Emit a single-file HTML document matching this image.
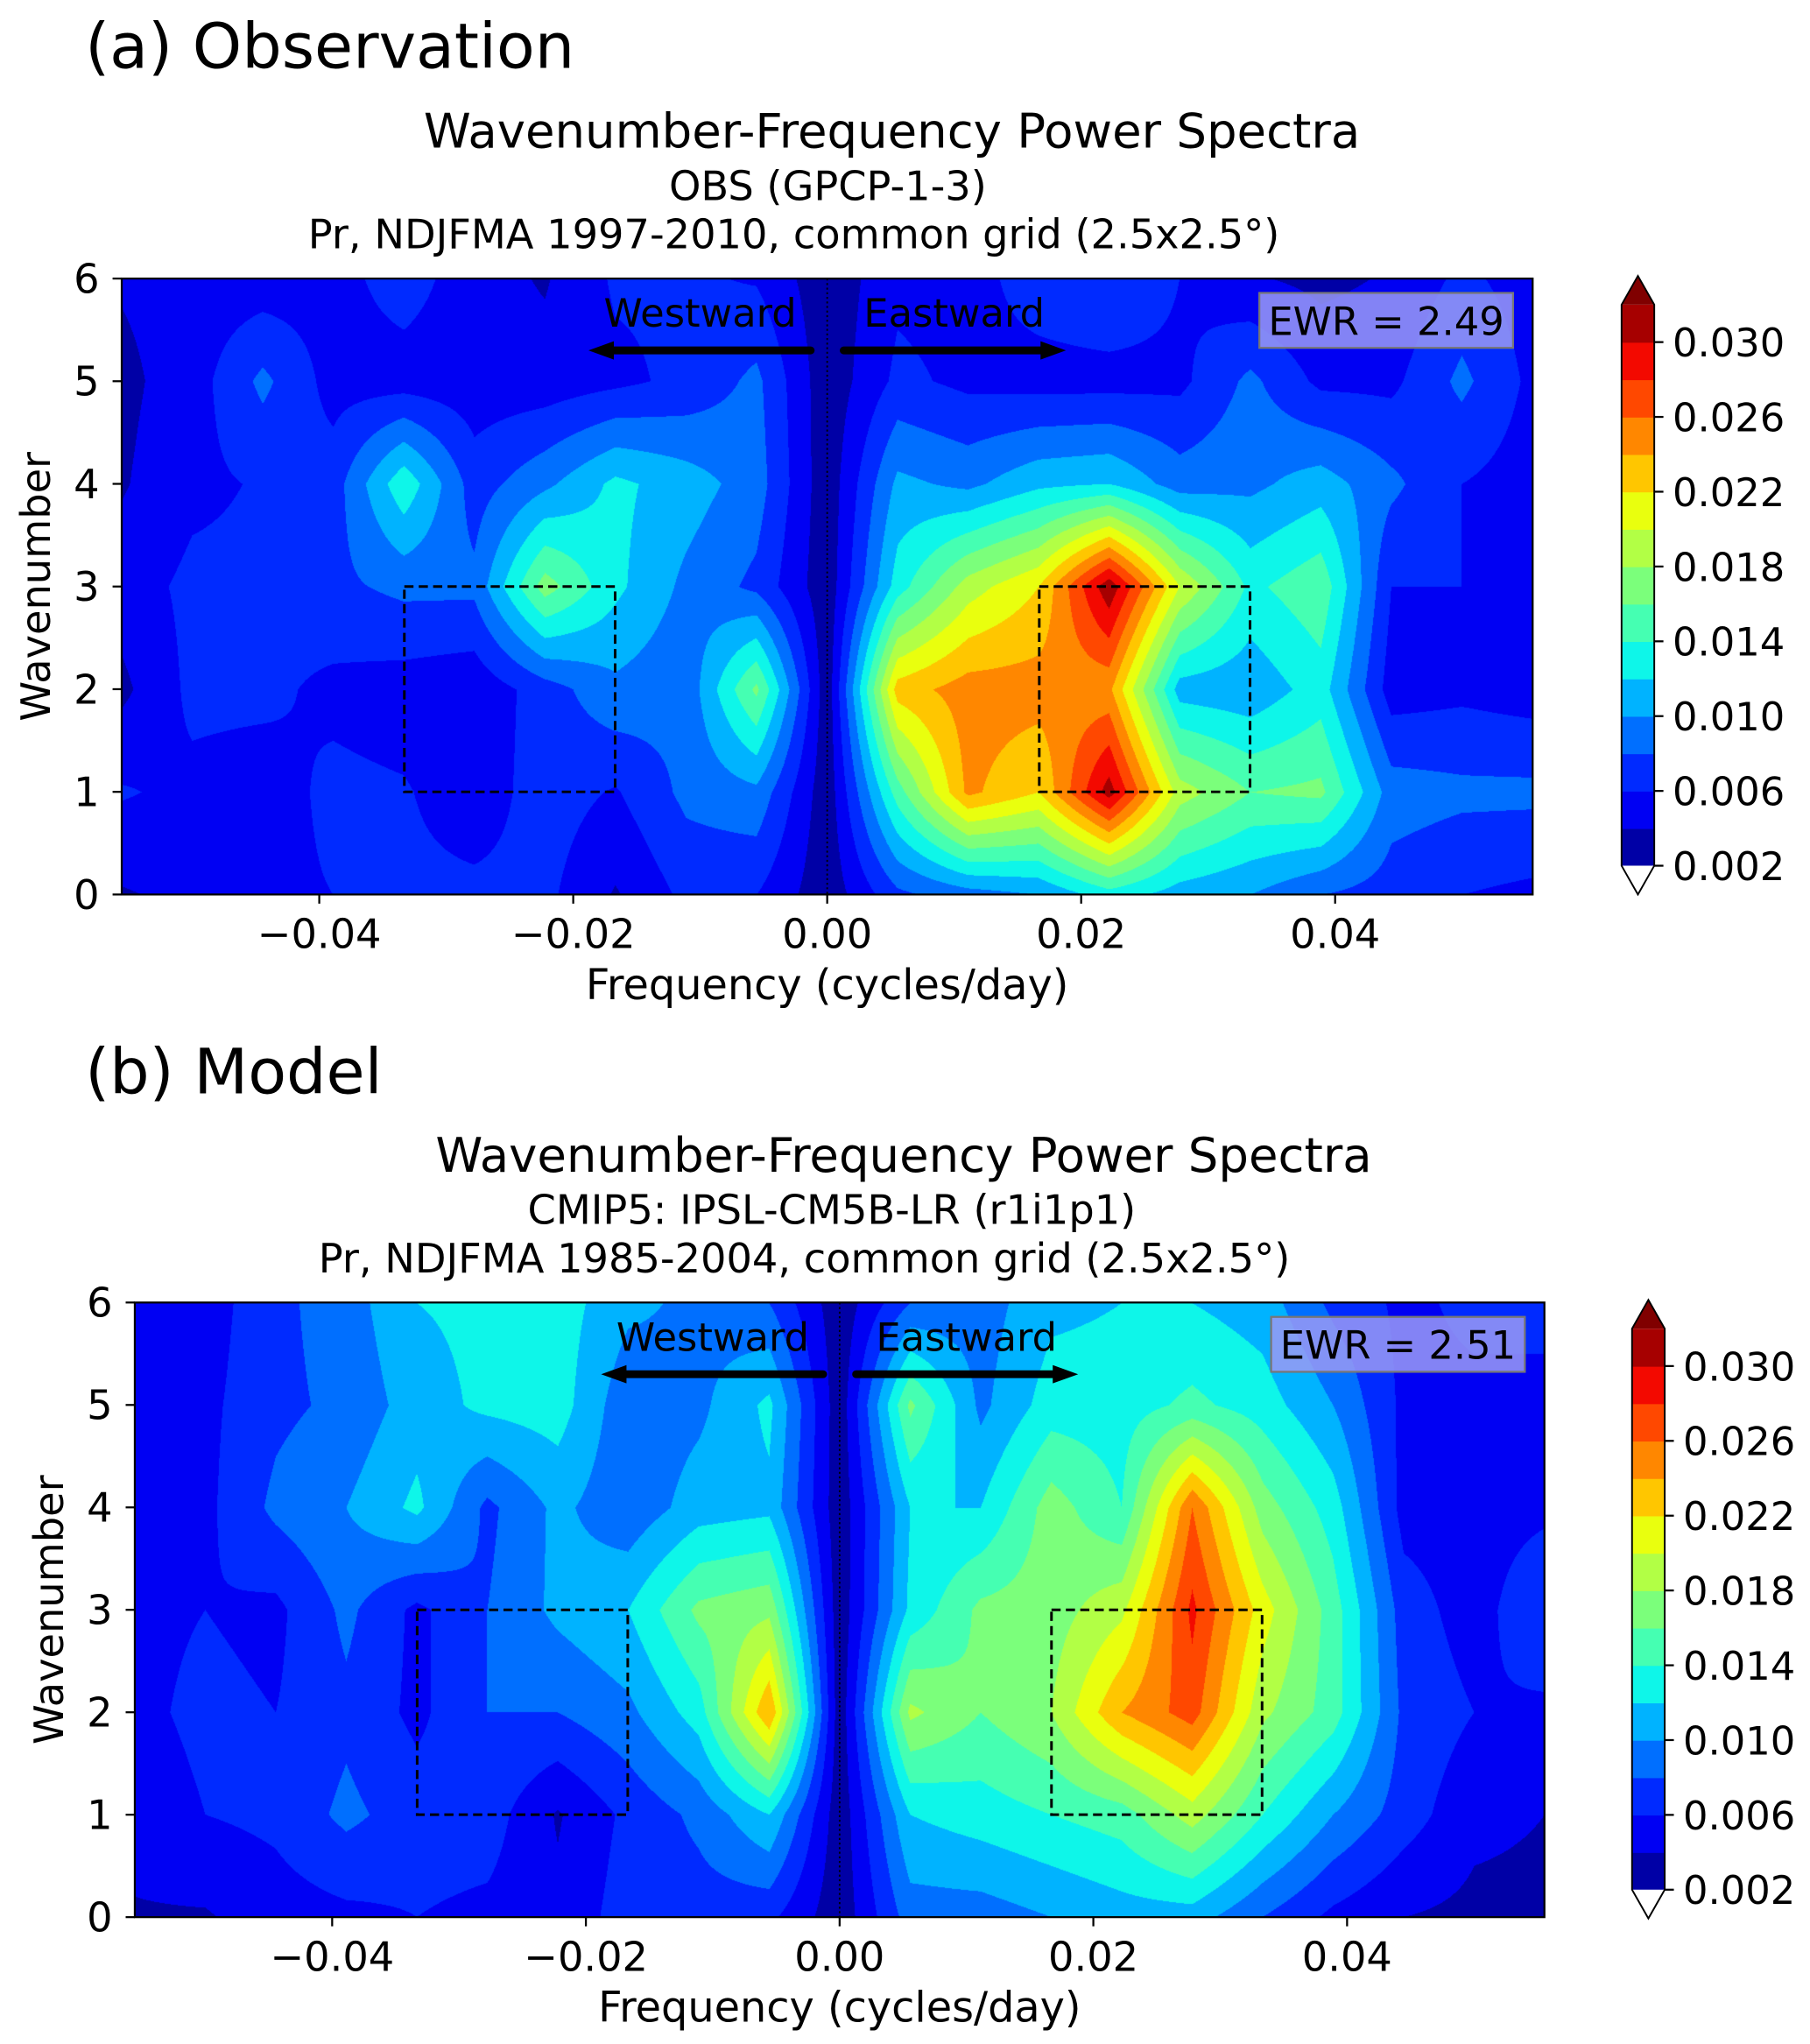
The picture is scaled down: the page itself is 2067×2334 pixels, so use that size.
<!DOCTYPE html>
<html>
<head>
<meta charset="utf-8">
<style>
  html,body{margin:0;padding:0;background:#fff;}
  #root{position:relative;width:2067px;height:2334px;overflow:hidden;background:#fff;}
  canvas{position:absolute;}
  svg{position:absolute;left:0;top:0;}
  text{font-family:"DejaVu Sans","Liberation Sans",sans-serif;fill:#000;}
</style>
</head>
<body>
<div id="root">
<svg id="svg" width="2067" height="2334" viewBox="0 0 1384 1563">
  <text x="65" y="52" font-size="48">(a) Observation</text>
  <text x="682" y="113" font-size="36.5" text-anchor="middle">Wavenumber-Frequency Power Spectra</text>
  <text x="633" y="153" font-size="31" text-anchor="middle">OBS (GPCP-1-3)</text>
  <text x="607" y="190" font-size="31" text-anchor="middle">Pr, NDJFMA 1997-2010, common grid (2.5x2.5°)</text>
  <text x="65" y="836" font-size="48">(b) Model</text>
  <text x="691" y="896" font-size="36.5" text-anchor="middle">Wavenumber-Frequency Power Spectra</text>
  <text x="636" y="936" font-size="31" text-anchor="middle">CMIP5: IPSL-CM5B-LR (r1i1p1)</text>
  <text x="615" y="973" font-size="31" text-anchor="middle">Pr, NDJFMA 1985-2004, common grid (2.5x2.5°)</text>
</svg>
</div>
<script>
const S = 2067 / 1384;
const NS = "http://www.w3.org/2000/svg";

// ---- data ----
const freqIndex = [-10,-9,-8,-7,-6,-5,-4,-3,-2,-1,0,1,2,3,4,5,6,7,8,9,10];
const freqStep = 1 / 180;
const wavenumbers = [0, 1, 2, 3, 4, 5, 6];
const levels = [0.002,0.004,0.006,0.008,0.010,0.012,0.014,0.016,0.018,0.020,0.022,0.024,0.026,0.028,0.030,0.032];
const cbTicks = [0.002,0.006,0.010,0.014,0.018,0.022,0.026,0.030];
const cbTickLabels = ["0.002","0.006","0.010","0.014","0.018","0.022","0.026","0.030"];
const xTicks = [-0.04,-0.02,0.00,0.02,0.04];
const xTickLabels = ["\u22120.04","\u22120.02","0.00","0.02","0.04"];
const yTicks = [0,1,2,3,4,5,6];
const yTickLabels = ["0","1","2","3","4","5","6"];
const boxWest = [-0.0333, -0.0167, 1, 3];
const boxEast = [0.0167, 0.0333, 1, 3];
const ewrObs = "EWR = 2.49";
const ewrModel = "EWR = 2.51";

// power (x 1e-3), rows = wavenumber 0..6, cols = freqIndex
const powerObs = [
 [3.8,4.5,5.5,6,6.5,6.5,6.5,3.8,6.5,6,2.6,7.5,9,10,13,11,10,8,7,6,5.5],
 [6.2,5.5,5,6.5,6.2,4.8,7,5.8,8.5,9.5,2.6,15,24.5,22,31,19,16,16.5,9,8.5,8.5],
 [3.5,6.5,6.5,5.5,5,4.5,7,9.5,8.5,16.5,2.6,23,25,25,24.5,11,10.5,13,5,5.5,5],
 [5,6.5,6.5,7.5,8.5,8.5,17,12.5,9.5,7.5,2.6,13,19,22,31.5,20,13.5,15.5,6,6,5],
 [3.8,5.5,6.2,7,13.5,7,9.5,12.5,11,9,2.6,10.5,9.5,11.5,12,9,9.5,11,8.5,6,5],
 [3.5,5,8.5,5.2,5,4.8,4.8,5.5,6.5,8.5,2.6,6.5,5.5,5.2,5.2,5.5,8.5,5.5,5.5,8.5,5.5],
 [4.2,4.8,4.8,5.2,7,4.8,3.8,6.3,6.3,5.8,2.6,5.5,5.2,7,8,6,4.2,3.5,4.2,6.5,5]
];
const powerModel = [
 [3.8,3.8,5,5.5,6,5.5,4.5,7,7,6.5,2.6,9,9,10,11,11,8,5.5,4,3.5,3.5],
 [4.8,6,6.5,8.5,7,7,3.8,6.5,8.5,12,2.6,12,13,14,15,19,14,10,7,4.5,4],
 [5.5,6.5,6,7.5,5.5,8,8,9.5,13,24,2.6,18.5,16,18,24,27,18.5,15,7.5,6,5.5],
 [5.5,6,5.5,8.5,5.5,8,10.5,12,16.5,17.5,2.6,12.5,16.5,17,19.5,28.5,21,15,7,5,8],
 [5,5.5,8.5,10,12.5,7.5,10.5,8.5,11,11.5,2.6,12,12,17,14,26,17,13,5.2,5,5.5],
 [4.8,5.5,7.5,8.5,11,12.5,13,8.5,9.5,12.5,2.6,16.5,9.5,13,13,14.5,13,10,5.5,5.5,5.5],
 [5.5,5,7.5,9,12,12.5,13,10.5,9.5,8,2.6,8,9,11.5,12,12,11,7.5,5.5,6.5,6.5]
];

// ---- colormap ----
function interp(pts, t){
  for (let i=0;i<pts.length-1;i++){
    const [a,va]=pts[i],[b,vb]=pts[i+1];
    if (t>=a && t<=b) return va+(vb-va)*(t-a)/(b-a);
  }
  return t<pts[0][0]?pts[0][1]:pts[pts.length-1][1];
}
function jet(t){
  const r=interp([[0,0],[0.35,0],[0.66,1],[0.89,1],[1,0.5]],t);
  const g=interp([[0,0],[0.125,0],[0.375,1],[0.64,1],[0.91,0],[1,0]],t);
  const b=interp([[0,0.5],[0.11,1],[0.34,1],[0.65,0],[1,0]],t);
  return [Math.round(r*255),Math.round(g*255),Math.round(b*255)];
}
const nBands = levels.length-1;
const bandColors = [];
for (let i=0;i<nBands;i++) bandColors.push(jet((i+0.5)/nBands));
const overColor = jet(1), underColor=[255,255,255];
function colorFor(v){
  if (v < levels[0]) return underColor;
  if (v >= levels[levels.length-1]) return overColor;
  let i = Math.floor((v-levels[0])/(levels[1]-levels[0]));
  return bandColors[Math.max(0,Math.min(nBands-1,i))];
}
const rgb = c => `rgb(${c[0]},${c[1]},${c[2]})`;

const svg = document.getElementById('svg');
function mk(tag, attrs, parent){
  const el=document.createElementNS(NS,tag);
  for (const k in attrs) el.setAttribute(k, attrs[k]);
  (parent||svg).appendChild(el);
  return el;
}

function drawPanel(P, power, ewr, prefix){
  const fmin = freqIndex[0]*freqStep, fmax = freqIndex[freqIndex.length-1]*freqStep;
  const kmin = wavenumbers[0], kmax = wavenumbers[wavenumbers.length-1];
  const X = f => P.x0 + (f-fmin)/(fmax-fmin)*(P.x1-P.x0);
  const Y = k => P.y1 - (k-kmin)/(kmax-kmin)*(P.y1-P.y0);

  const cx0=Math.round(P.x0*S), cy0=Math.round(P.y0*S);
  const W=Math.round(P.x1*S)-cx0, H=Math.round(P.y1*S)-cy0;
  const cv=document.createElement('canvas');
  cv.width=W; cv.height=H;
  cv.style.left=cx0+'px'; cv.style.top=cy0+'px';
  
  
  document.getElementById('root').insertBefore(cv, svg);
  const ctx=cv.getContext('2d');
  const img=ctx.createImageData(W,H);
  const nc=freqIndex.length, nr=wavenumbers.length;
  for (let py=0;py<H;py++){
    const k = kmax - (py+0.5)/H*(kmax-kmin);
    let r = Math.min(nr-2, Math.max(0, Math.floor(k-kmin)));
    const ty = Math.min(1,Math.max(0,(k-wavenumbers[r])/(wavenumbers[r+1]-wavenumbers[r])));
    for (let px=0;px<W;px++){
      const f = fmin + (px+0.5)/W*(fmax-fmin);
      const fi = f/freqStep - freqIndex[0];
      let c = Math.min(nc-2, Math.max(0, Math.floor(fi)));
      const tx = Math.min(1,Math.max(0,fi-c));
      const v = 0.001*((1-ty)*((1-tx)*power[r][c]+tx*power[r][c+1]) + ty*((1-tx)*power[r+1][c]+tx*power[r+1][c+1]));
      const col=colorFor(v);
      const o=(py*W+px)*4;
      img.data[o]=col[0]; img.data[o+1]=col[1]; img.data[o+2]=col[2]; img.data[o+3]=255;
    }
  }
  ctx.putImageData(img,0,0);

  const g = mk('g',{});
  
  

  const zl = mk('line',{x1:X(0),x2:X(0),y1:P.y0,y2:P.y1,stroke:'#000','stroke-width':1.2,'stroke-dasharray':'1.5,2'},g);
  
  

  [[boxWest,'westward-box'],[boxEast,'eastward-box']].forEach(([b,n])=>{
    const r = mk('rect',{x:X(b[0]),y:Y(b[3]),width:X(b[1])-X(b[0]),height:Y(b[2])-Y(b[3]),fill:'none',stroke:'#000','stroke-width':2,'stroke-dasharray':'7,4'},g);
    
    
  });

  const ay = Y(5.3);
  const wArrow = mk('g',{},g);
  
  
  mk('line',{x1:X(-0.0013),x2:X(-0.0170),y1:ay,y2:ay,stroke:'#000','stroke-width':6,'stroke-linecap':'round'},wArrow);
  mk('polygon',{points:`${X(-0.0188)},${ay} ${X(-0.0168)},${ay-7} ${X(-0.0168)},${ay+7}`,fill:'#000'},wArrow);
  const eArrow = mk('g',{},g);
  
  
  mk('line',{x1:X(0.0013),x2:X(0.0170),y1:ay,y2:ay,stroke:'#000','stroke-width':6,'stroke-linecap':'round'},eArrow);
  mk('polygon',{points:`${X(0.0188)},${ay} ${X(0.0168)},${ay-7} ${X(0.0168)},${ay+7}`,fill:'#000'},eArrow);
  const wt = mk('text',{x:X(-0.0100),y:Y(5.53),'font-size':30,'text-anchor':'middle'},g);
  wt.textContent='Westward';
  
  
  const et = mk('text',{x:X(0.0100),y:Y(5.53),'font-size':30,'text-anchor':'middle'},g);
  et.textContent='Eastward';
  
  

  const eb = mk('g',{},g);
  
  
  mk('rect',{x:P.x1-209,y:P.y0+11,width:194,height:42,fill:'#9a9af5','fill-opacity':0.85,stroke:'#777','stroke-width':1.5},eb);
  const ewt = mk('text',{x:P.x1-112,y:P.y0+43,'font-size':30,'text-anchor':'middle'},eb);
  ewt.textContent=ewr;

  const fr = mk('rect',{x:P.x0,y:P.y0,width:P.x1-P.x0,height:P.y1-P.y0,fill:'none',stroke:'#000','stroke-width':1.5},g);
  
  

  xTicks.forEach((t,i)=>{
    const tk = mk('line',{x1:X(t),x2:X(t),y1:P.y1,y2:P.y1+7,stroke:'#000','stroke-width':1.5},g);
    
    
    const tl = mk('text',{x:X(t),y:P.y1+41,'font-size':31,'text-anchor':'middle'},g);
    tl.textContent=xTickLabels[i];
    
    
  });
  const xt = mk('text',{x:(P.x0+P.x1)/2,y:P.y1+80,'font-size':32,'text-anchor':'middle'},g);
  xt.textContent='Frequency (cycles/day)';
  
  

  yTicks.forEach((t,i)=>{
    const tk = mk('line',{x1:P.x0-7,x2:P.x0,y1:Y(t),y2:Y(t),stroke:'#000','stroke-width':1.5},g);
    
    
    const tl = mk('text',{x:P.x0-17,y:Y(t)+11,'font-size':31,'text-anchor':'end'},g);
    tl.textContent=yTickLabels[i];
    
    
  });
  const yt = mk('text',{x:0,y:0,'font-size':31,'text-anchor':'middle',transform:`translate(${P.x0-55},${(P.y0+P.y1)/2}) rotate(-90)`},g);
  yt.textContent='Wavenumber';
  
  

  const cb = mk('g',{},svg);
  
  
  const CY = v => P.cbLow - (v-levels[0])/(levels[levels.length-1]-levels[0])*(P.cbLow-P.cbHigh);
  for (let i=0;i<nBands;i++){
    const r = mk('rect',{x:P.cbx,y:CY(levels[i+1]),width:P.cbw,height:CY(levels[i])-CY(levels[i+1])+0.5,fill:rgb(bandColors[i])},cb);
    
    
  }
  const top = CY(levels[levels.length-1]), bot = CY(levels[0]);
  const ext = 22;
  mk('polygon',{points:`${P.cbx},${top} ${P.cbx+P.cbw},${top} ${P.cbx+P.cbw/2},${top-ext}`,fill:rgb(overColor)},cb);
  mk('polygon',{points:`${P.cbx},${bot} ${P.cbx+P.cbw},${bot} ${P.cbx+P.cbw/2},${bot+ext}`,fill:'#fff'},cb);
  mk('polygon',{points:`${P.cbx},${top} ${P.cbx+P.cbw/2},${top-ext} ${P.cbx+P.cbw},${top} ${P.cbx+P.cbw},${bot} ${P.cbx+P.cbw/2},${bot+ext} ${P.cbx},${bot}`,fill:'none',stroke:'#000','stroke-width':1.3},cb);
  cbTicks.forEach((t,i)=>{
    mk('line',{x1:P.cbx+P.cbw,x2:P.cbx+P.cbw+7,y1:CY(t),y2:CY(t),stroke:'#000','stroke-width':1.5},cb);
    const tl = mk('text',{x:P.cbx+P.cbw+14,y:CY(t)+11,'font-size':30},cb);
    tl.textContent=cbTickLabels[i];
    
    
  });
}

drawPanel({x0:93,x1:1172,y0:213,y1:684,cbx:1240,cbw:25,cbLow:662,cbHigh:233}, powerObs, ewrObs, 'panel-a');
drawPanel({x0:103,x1:1181,y0:996,y1:1466,cbx:1248,cbw:25,cbLow:1445,cbHigh:1016}, powerModel, ewrModel, 'panel-b');
</script>
</body>
</html>
